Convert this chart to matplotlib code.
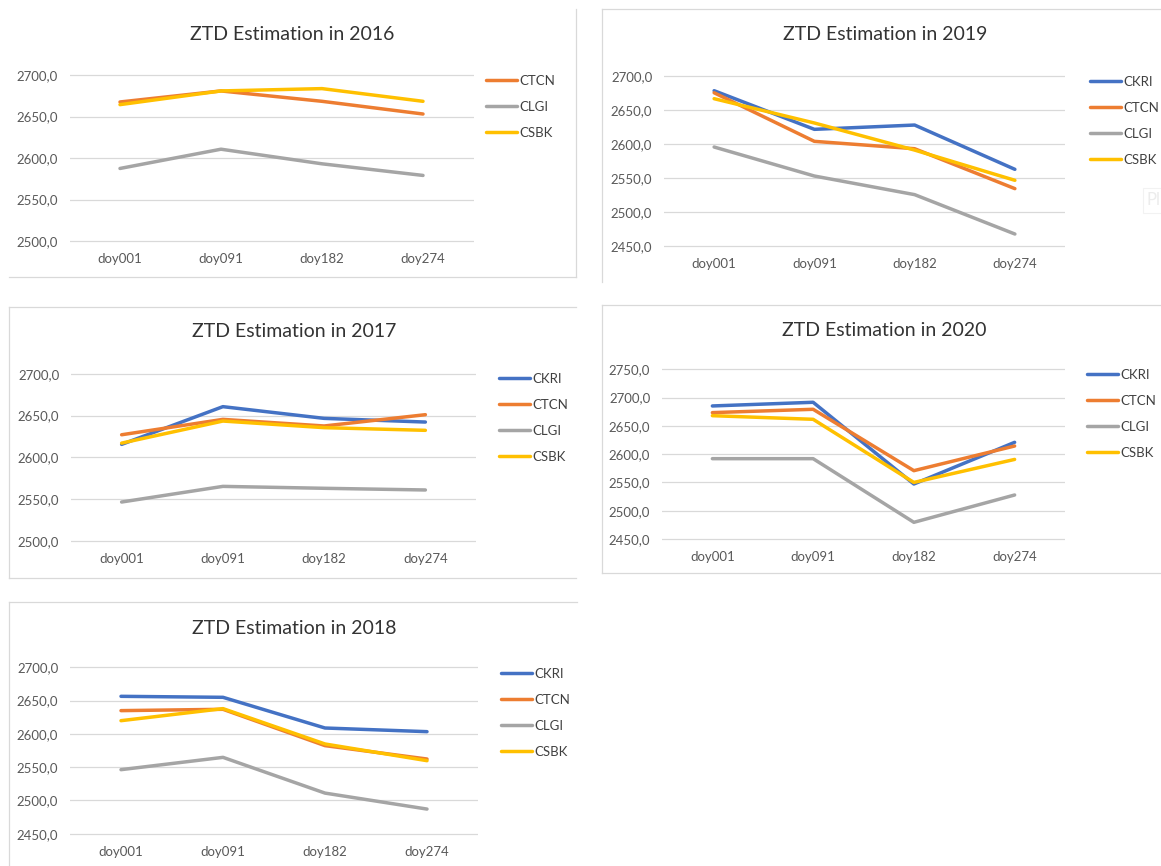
"""Five Excel-style ZTD line charts laid out as one sheet screenshot."""

import matplotlib

matplotlib.use("Agg")

import matplotlib.pyplot as plt
import numpy as np
from matplotlib.lines import Line2D
from matplotlib.patches import Rectangle
from matplotlib.ticker import FuncFormatter

plt.rcParams["font.family"] = ["Lato", "DejaVu Sans"]

W, H = 1161, 866

DAYS = ["doy001", "doy091", "doy182", "doy274"]

COLORS = {
    "CKRI": "#4472C4",
    "CTCN": "#ED7D31",
    "CLGI": "#A5A5A5",
    "CSBK": "#FFC000",
}

ztd_2016 = {
    "CTCN": [2667.5, 2680.8, 2668.3, 2653.0],
    "CLGI": [2587.4, 2610.6, 2593.0, 2579.0],
    "CSBK": [2664.3, 2680.8, 2683.6, 2668.3],
}

ztd_2017 = {
    "CKRI": [2615.5, 2660.6, 2646.6, 2642.2],
    "CTCN": [2627.0, 2645.4, 2637.5, 2651.0],
    "CLGI": [2546.6, 2565.3, 2563.0, 2561.0],
    "CSBK": [2617.0, 2643.4, 2635.5, 2632.3],
}

ztd_2018 = {
    "CKRI": [2656.4, 2654.9, 2608.8, 2603.3],
    "CTCN": [2634.9, 2636.9, 2582.3, 2562.2],
    "CLGI": [2546.2, 2564.7, 2511.0, 2487.0],
    "CSBK": [2619.8, 2637.9, 2584.8, 2559.7],
}

ztd_2019 = {
    "CKRI": [2678.0, 2621.4, 2627.7, 2562.8],
    "CTCN": [2675.0, 2603.8, 2593.0, 2534.5],
    "CLGI": [2595.5, 2553.0, 2525.7, 2468.0],
    "CSBK": [2666.3, 2630.7, 2591.0, 2546.7],
}

ztd_2020 = {
    "CKRI": [2685.2, 2691.7, 2547.2, 2620.9],
    "CTCN": [2673.4, 2679.3, 2570.8, 2614.4],
    "CLGI": [2592.0, 2592.0, 2479.5, 2527.8],
    "CSBK": [2668.0, 2661.6, 2550.0, 2590.7],
}

# layout in screenshot pixels:
# plot left/right, pixel rows of ymax/ymin, y range, title centre, legend start
PANELS = [
    (2016, ztd_2016, 69.5, 473.5, 75.0, 241.0, 2500, 2700, (292, 34), (486, 80)),
    (2017, ztd_2017, 71.0, 476.0, 373.7, 541.0, 2500, 2700, (294, 332), (499, 378)),
    (2018, ztd_2018, 70.0, 478.0, 667.3, 833.7, 2450, 2700, (294, 628), (501, 673)),
    (2019, ztd_2019, 664.0, 1065.0, 75.7, 246.3, 2450, 2700, (885, 35), (1090, 81)),
    (2020, ztd_2020, 662.0, 1065.0, 369.3, 539.0, 2450, 2750, (884, 330), (1087, 374)),
]

BORDERS = [
    ((9, 576), (277, 277)),
    ((576, 576), (9, 277)),
    ((602, 602), (9, 282)),
    ((602, 1161), (9, 9)),
    ((9, 576), (307, 307)),
    ((9, 9), (307, 578)),
    ((9, 576), (578, 578)),
    ((602, 602), (305, 573)),
    ((602, 1161), (305, 305)),
    ((602, 1161), (573, 573)),
    ((9, 577), (602, 602)),
    ((9, 9), (602, 866)),
]

GRID = "#d9d9d9"
TEXT = "#595959"
TICK_PT = 9.5


def fx(x):
    return x / W


def fy(y):
    return 1 - y / H


def comma_fmt(v, _pos):
    return f"{v:.1f}".replace(".", ",")


fig = plt.figure(figsize=(W / 100, H / 100), dpi=100, facecolor="white")

for xs, ys in BORDERS:
    fig.add_artist(Line2D([fx(x) for x in xs], [fy(y) for y in ys],
                          transform=fig.transFigure, color=GRID, linewidth=0.9))

for year, data, left, right, ytop, ybot, ymin, ymax, title_xy, leg_xy in PANELS:
    ext = 3
    vpp = (ymax - ymin) / (ybot - ytop)
    ax = fig.add_axes([fx(left), fy(ybot + ext), (right - left) / W, (ybot - ytop + 2 * ext) / H])
    ax.set_facecolor("none")

    handles = []
    for name, values in data.items():
        (line,) = ax.plot(range(len(DAYS)), values, color=COLORS[name], linewidth=2.5,
                          solid_capstyle="round", solid_joinstyle="round", label=name)
        handles.append(line)

    ax.set_xlim(-0.5, len(DAYS) - 0.5)
    ax.set_ylim(ymin - ext * vpp, ymax + ext * vpp)
    ax.set_xticks(range(len(DAYS)), DAYS)
    ax.set_yticks(np.arange(ymin, ymax + 1, 50))
    ax.yaxis.set_major_formatter(FuncFormatter(comma_fmt))
    ax.grid(True, axis="y", color=GRID, linewidth=0.9)
    ax.set_axisbelow(True)
    for spine in ax.spines.values():
        spine.set_visible(False)
    ax.tick_params(axis="both", length=0, labelsize=TICK_PT, colors=TEXT)
    ax.tick_params(axis="x", pad=6.5)
    ax.tick_params(axis="y", pad=8.5)

    fig.text(fx(title_xy[0]), fy(title_xy[1]), f"ZTD Estimation in {year}",
             ha="center", va="center", fontsize=14, color="#333333")

    ax.legend(handles=handles, loc="upper left",
              bbox_to_anchor=(fx(leg_xy[0]), fy(leg_xy[1] - 5)),
              bbox_transform=fig.transFigure, frameon=False, fontsize=TICK_PT,
              labelcolor="#404040", handlelength=2.35, handletextpad=0.15,
              labelspacing=1.05, borderpad=0, borderaxespad=0)

# faint leftover button at the edge of the 2019 chart
fig.add_artist(Rectangle((fx(1143), fy(213)), 20 / W, 25 / H, transform=fig.transFigure,
                         facecolor="white", edgecolor="#f2f2f2", linewidth=0.8))
fig.text(fx(1147), fy(200), "Pl", ha="left", va="center", fontsize=12, color="#ececec")

fig.savefig("out.png", dpi=100, facecolor="white")
